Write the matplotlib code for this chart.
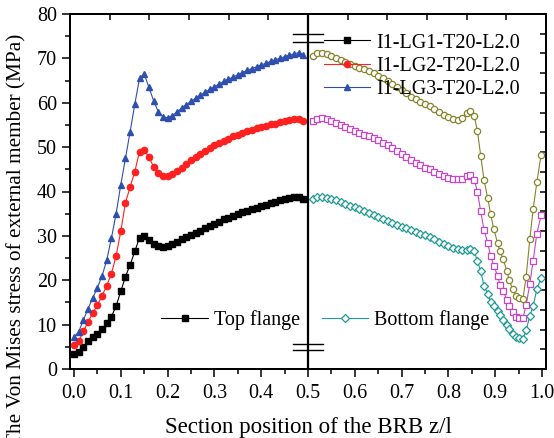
import numpy as np
import matplotlib
matplotlib.use("Agg")
import matplotlib.pyplot as plt
from matplotlib.ticker import MultipleLocator

plt.rcParams['font.family'] = ['Liberation Serif', 'DejaVu Serif']
plt.rcParams['mathtext.fontset'] = 'stix'

# ---- data: top flange (z/l = 0 .. 0.49) ----
x_top = np.round(np.arange(0.0, 0.495, 0.01), 3)
lg1_top = [3.3, 3.8, 5.0, 6.2, 7.1, 8.0, 9.0, 10.3, 11.8, 14.2,
           17.5, 20.8, 23.5, 26.5, 29.6, 29.9, 29.0, 28.2, 27.7, 27.6,
           27.8, 28.2, 28.7, 29.2, 29.7, 30.2, 30.7, 31.2, 31.7, 32.2,
           32.7, 33.2, 33.7, 34.1, 34.5, 34.9, 35.3, 35.6, 36.0, 36.3,
           36.7, 37.0, 37.4, 37.7, 38.0, 38.3, 38.6, 38.8, 38.7, 38.3]
lg2_top = [5.3, 6.3, 8.5, 10.6, 12.6, 14.4, 16.5, 18.8, 21.5, 25.5,
           31.0, 37.5, 41.0, 44.5, 49.0, 49.4, 47.7, 45.6, 44.2, 43.5,
           43.5, 43.9, 44.6, 45.4, 46.2, 47.0, 47.8, 48.5, 49.2, 49.8,
           50.4, 50.9, 51.4, 51.9, 52.4, 52.8, 53.2, 53.6, 53.9, 54.2,
           54.5, 54.8, 55.1, 55.3, 55.6, 55.9, 56.2, 56.4, 56.3, 55.8]
lg3_top = [7.2, 8.4, 11.0, 13.6, 16.0, 18.3, 21.0, 24.5, 29.5, 35.0,
           41.5, 47.5, 53.5, 59.7, 65.5, 66.5, 63.5, 60.5, 58.0, 56.9,
           56.6, 57.1, 57.9, 58.8, 59.6, 60.3, 61.0, 61.7, 62.4, 63.0,
           63.6, 64.2, 64.8, 65.3, 65.8, 66.3, 66.8, 67.3, 67.7, 68.1,
           68.5, 68.9, 69.3, 69.7, 70.0, 70.4, 70.7, 71.0, 71.3, 70.8]

# ---- data: bottom flange (z/l = 0.51 .. 1.0) ----
x_bot = [0.51, 0.52, 0.53, 0.54, 0.55, 0.56, 0.57, 0.58, 0.59, 0.60,
         0.61, 0.62, 0.63, 0.64, 0.65, 0.66, 0.67, 0.68, 0.69, 0.70,
         0.71, 0.72, 0.73, 0.74, 0.75, 0.76, 0.77, 0.78, 0.79, 0.80,
         0.81, 0.82, 0.83, 0.84, 0.846, 0.855, 0.862, 0.869, 0.876, 0.884,
         0.890, 0.897, 0.905, 0.910, 0.917, 0.925, 0.930, 0.937, 0.944, 0.951,
         0.959, 0.966, 0.974, 0.981, 0.989, 0.998]
lg1_bot = [38.4, 38.7, 38.8, 38.6, 38.3, 38.0, 37.6, 37.2, 36.8, 36.4,
           36.0, 35.6, 35.2, 34.8, 34.3, 33.9, 33.4, 33.0, 32.5, 32.1,
           31.7, 31.3, 30.9, 30.5, 30.1, 29.7, 29.2, 28.7, 28.2, 27.7,
           27.3, 27.0, 26.9, 26.9, 27.0, 26.5, 24.4, 22.0, 18.8, 16.9,
           15.2, 14.1, 13.1, 12.2, 11.1, 9.9, 9.0, 7.9, 7.3, 6.9,
           6.8, 8.7, 12.0, 14.2, 18.0, 20.5]
lg2_bot = [55.9, 56.4, 56.6, 56.3, 55.9, 55.4, 55.0, 54.6, 54.1, 53.7,
           53.2, 52.8, 52.4, 52.0, 51.5, 51.0, 50.5, 49.9, 49.2, 48.5,
           47.8, 47.1, 46.5, 45.9, 45.4, 45.0, 44.5, 44.0, 43.5, 43.1,
           42.9, 42.8, 42.9, 43.4, 43.8, 42.7, 40.0, 35.5, 31.4, 28.4,
           25.5, 23.3, 21.0, 19.0, 17.5, 15.6, 14.2, 12.9, 11.8, 11.4,
           11.4, 14.4, 19.2, 24.4, 30.5, 34.6]
lg3_bot = [70.6, 71.1, 71.2, 70.9, 70.5, 70.1, 69.6, 69.2, 68.7, 68.3,
           67.9, 67.5, 67.1, 66.6, 66.1, 65.5, 64.9, 64.2, 63.5, 62.8,
           62.1, 61.4, 60.8, 60.2, 59.7, 59.2, 58.6, 58.0, 57.3, 56.7,
           56.3, 56.2, 56.6, 57.6, 58.1, 57.1, 53.6, 48.1, 42.6, 38.5,
           35.0, 31.5, 28.4, 26.5, 24.8, 22.0, 20.0, 18.0, 16.5, 16.0,
           15.7, 20.7, 29.3, 36.0, 42.1, 48.3]

labels = ['I1-LG1-T20-L2.0', 'I1-LG2-T20-L2.0', 'I1-LG3-T20-L2.0']
x_ticks = [0.0, 0.1, 0.2, 0.3, 0.4, 0.5, 0.6, 0.7, 0.8, 0.9, 1.0]

fig = plt.figure(figsize=(5.54, 4.38), dpi=100)
ax = fig.add_axes([70 / 554, 1 - 369 / 438, 476 / 554, 355 / 438])

lw = 0.8
l1, = ax.plot(x_top, lg1_top, '-s', color='black', lw=lw, ms=4, label=labels[0])
l2, = ax.plot(x_top, lg2_top, '-o', color='#ff2020', lw=lw, ms=4.5, label=labels[1])
l3, = ax.plot(x_top, lg3_top, '-^', color='#2e4fae', lw=lw, ms=5, label=labels[2])

b1, = ax.plot(x_bot, lg1_bot, '-D', color='#1a9a9a', lw=lw, ms=3.8, mfc='white', mew=0.9)
b2, = ax.plot(x_bot, lg2_bot, '-s', color='#c846c8', lw=lw, ms=4.2, mfc='white', mew=0.9)
b3, = ax.plot(x_bot, lg3_bot, '-o', color='#85852a', lw=lw, ms=4.5, mfc='white', mew=0.9)

# dividing line at mid-length with break marks
ax.axvline(0.5, color='black', lw=1.6)
for yb in (75.6, 73.6, 5.6, 4.2):
    ax.plot([0.468, 0.531], [yb, yb], color='black', lw=1.0)

ax.set_xlim(-0.0085, 1.0085)
ax.set_ylim(0, 80)
ax.set_xticks(x_ticks)
ax.xaxis.set_minor_locator(MultipleLocator(0.05))
ax.yaxis.set_major_locator(MultipleLocator(10))
ax.yaxis.set_minor_locator(MultipleLocator(5))
ax.tick_params(which='major', direction='out', length=6, width=1.1, labelsize=14.5,
               top=False, right=False)
ax.tick_params(axis='x', which='major', pad=5)
ax.tick_params(which='minor', direction='out', length=3.5, width=1.1,
               top=False, right=False)
for sp in ax.spines.values():
    sp.set_linewidth(1.2)

# extra ticks on top/right edges
axt = ax.twiny()
axt.set_xlim(0, 12)
axt.xaxis.set_major_locator(MultipleLocator(1))
axt.tick_params(direction='in', length=4.5, width=1.1, labeltop=False)
axr = ax.twinx()
axr.set_ylim(0, 18)
axr.yaxis.set_major_locator(MultipleLocator(1))
axr.tick_params(direction='in', length=4.5, width=1.1, labelright=False)
for a in (axt, axr):
    for sp in a.spines.values():
        sp.set_linewidth(1.2)

ax.set_xlabel('Section position of the BRB z/l', fontsize=16.5, labelpad=10)
ax.set_ylabel('The Von Mises stress of external member (MPa)', fontsize=15.3)
ax.yaxis.set_label_coords(-0.092, 0.365)

leg1 = ax.legend(handles=[l1, l2, l3], loc='upper left', bbox_to_anchor=(0.516, 0.968),
                 frameon=False, fontsize=14.5, handlelength=2.3, handletextpad=0.3,
                 labelspacing=0.2, borderaxespad=0)
ax.add_artist(leg1)
ax.legend(handles=[l1, b1], labels=['Top flange', 'Bottom flange'], ncol=2,
          loc='center left', bbox_to_anchor=(0.175, 0.137), frameon=False, fontsize=14.5,
          handlelength=2.3, handletextpad=0.3, columnspacing=1.1, borderaxespad=0)
ax.set_zorder(axr.get_zorder() + 1)
ax.patch.set_visible(False)

fig.savefig('out.png', dpi=100)
